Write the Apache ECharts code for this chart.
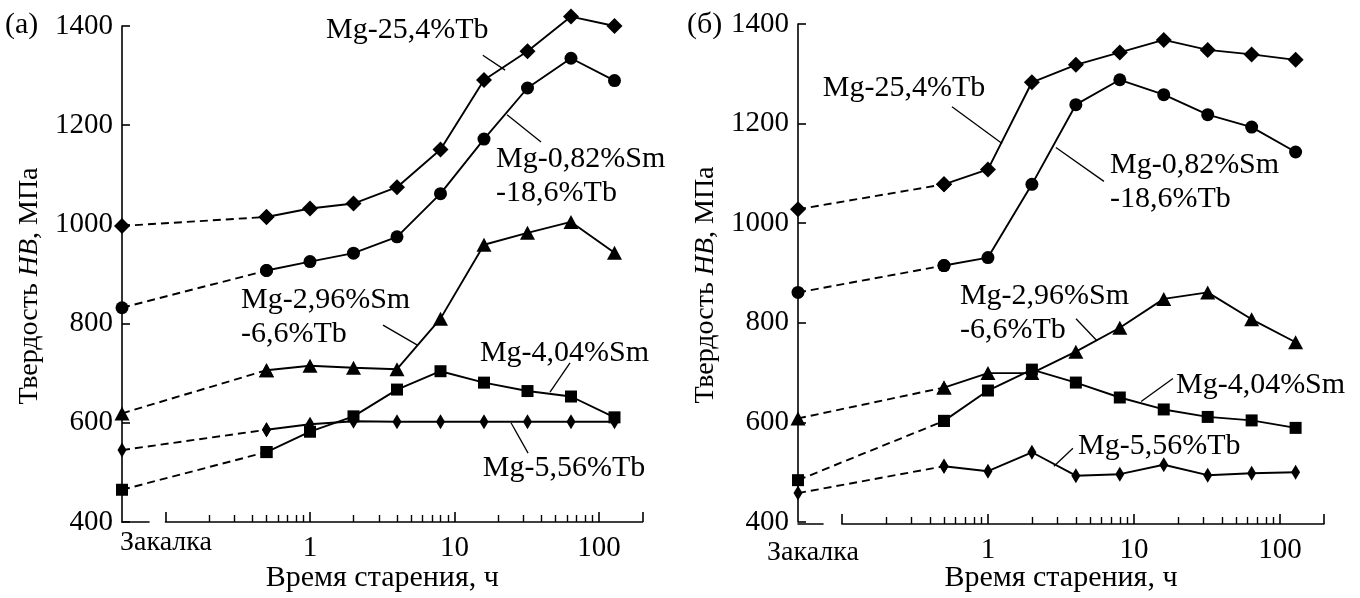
<!DOCTYPE html>
<html><head><meta charset="utf-8">
<script src="https://cdn.jsdelivr.net/npm/echarts@6/dist/echarts.min.js"></script>
<style>html,body{margin:0;padding:0;background:#fff}#c{width:1360px;height:598px}</style>
</head><body><div id="c"></div><script>
// ---------------- data ----------------
const TIMES = [0.5, 1, 2, 4, 8, 16, 32, 64, 128];        // ageing time, h
const QUENCH_X = 0.05;                                    // pseudo-time of the "Закалка" (quenched) state
const QUENCH_LABEL = 'Закалка';
const ALLOYS = ['Mg-25,4%Tb', 'Mg-0,82%Sm-18,6%Tb', 'Mg-2,96%Sm-6,6%Tb', 'Mg-4,04%Sm', 'Mg-5,56%Tb'];
const ALLOY_LABELS = ['Mg-25,4%Tb', 'Mg-0,82%Sm\n-18,6%Tb', 'Mg-2,96%Sm\n-6,6%Tb', 'Mg-4,04%Sm', 'Mg-5,56%Tb'];
// first value = quenched state, then one value per TIMES entry (HB, MPa)
const A_TB254 = [997, 1015, 1032, 1042, 1075, 1151, 1291, 1349, 1419, 1400];
const A_SM082 = [832, 907, 925, 942, 975, 1062, 1172, 1275, 1335, 1290];
const A_SM296 = [619, 706, 715, 711, 708, 810, 959, 983, 1005, 943];
const A_SM404 = [465, 541, 582, 613, 667, 704, 681, 664, 653, 611];
const A_TB556 = [545, 586, 597, 603, 602, 602, 602, 602, 602, 602];

const B_TB254 = [1028, 1078, 1108, 1283, 1318, 1343, 1368, 1348, 1339, 1328];
const B_SM082 = [861, 915, 931, 1078, 1238, 1288, 1258, 1218, 1193, 1143];
const B_SM296 = [608, 670, 699, 699, 742, 790, 848, 861, 807, 761];
const B_SM404 = [484, 603, 664, 706, 680, 650, 626, 611, 604, 589];
const B_TB556 = [458, 512, 502, 540, 493, 496, 515, 494, 498, 500];

const X_MAJOR_TICKS = [0.1, 1, 10, 100, 200];
const X_MINOR_TICKS = [0.2,0.3,0.4,0.5,0.6,0.7,0.8,0.9, 2,3,4,5,6,7,8,9, 20,30,40,50,60,70,80,90];
const X_TICK_LABELS = [1, 10, 100];
const X_MAX = 200;
const Y_MIN = 400, Y_MAX = 1400, Y_STEP = 200;
const X_NAME = 'Время старения, ч';
const PANEL_TAGS = ['(a)', '(б)'];

// annotation anchors (data coords): text left-middle point, leader line ends
const LABEL_POS_A = [[1.29, 1392], [19.4, 1097], [0.333, 814], [15.0, 741], [15.7, 509]];
const LEADER_A = [[[15.7, 1341], [22.4, 1311]], [[23.1, 1221], [39.7, 1166]], [[3.2, 797], [5.5, 757]], [[63, 721], [45.8, 662]], [[24.6, 600], [32.3, 539]]];
const LABEL_POS_B = [[0.074, 1272], [6.85, 1083], [0.643, 819], [19.4, 674], [4.14, 552]];
const LEADER_B = [[[0.567, 1234], [1.25, 1160]], [[2.92, 1152], [6.23, 1084]], [[4.01, 808], [5.58, 764]], [[18.5, 688], [11.2, 642]], [[3.82, 548], [2.83, 512]]];

// ---------------- styles / layout ----------------
const FONT = '"Liberation Serif", "Times New Roman", serif';
const INK = '#000';
const MARKERS = [
  {symbol: 'diamond', size: [16, 16]},
  {symbol: 'circle', size: 13},
  {symbol: 'triangle', size: [15, 14]},
  {symbol: 'rect', size: 12},
  {symbol: 'diamond', size: [9, 15]}
];
const PANELS = [
  {tag: PANEL_TAGS[0], L: 122, top: 26, h: 496, decade: 144.5, qW: 27, series: [A_TB254, A_SM082, A_SM296, A_SM404, A_TB556], pos: LABEL_POS_A, lead: LEADER_A,
   tagPos: [5, 10], qPos: [120, 529]},
  {tag: PANEL_TAGS[1], L: 798, top: 24, h: 500, decade: 146, qW: 25, series: [B_TB254, B_SM082, B_SM296, B_SM404, B_TB556], pos: LABEL_POS_B, lead: LEADER_B,
   tagPos: [687, 10], qPos: [767, 539]}
];

const grid = [], xAxis = [], yAxis = [], series = [], title = [];
const L10 = Math.log10;
PANELS.forEach((p, pi) => {
  const W = p.decade * L10(X_MAX / QUENCH_X);
  const tickL = p.L + p.decade * L10(X_MAJOR_TICKS[0] / QUENCH_X);
  grid.push({left: p.L, top: p.top, width: W, height: p.h});                      // 3pi   main
  grid.push({left: p.L, top: p.top, width: p.qW, height: p.h});                   // 3pi+1 quench stub
  grid.push({left: tickL, top: p.top, width: p.L + W - tickL, height: p.h});      // 3pi+2 log tick axis
  const g0 = 3 * pi;
  const xi = 4 * pi, yi = 3 * pi;
  // main log axis (hidden line, carries the name)
  xAxis.push({type: 'log', gridIndex: g0, position: 'bottom', min: QUENCH_X, max: X_MAX, logBase: 10,
    axisLine: {show: false}, axisTick: {show: false}, axisLabel: {show: false}, splitLine: {show: false},
    name: X_NAME, nameLocation: 'middle', nameGap: 41,
    nameTextStyle: {fontFamily: FONT, fontSize: 30, color: INK}});
  // quench stub
  xAxis.push({type: 'value', gridIndex: g0 + 1, position: 'bottom', min: 0, max: 1,
    axisLine: {show: true, lineStyle: {color: INK, width: 1.6}}, axisTick: {show: false}, axisLabel: {show: false}, splitLine: {show: false}});
  // major ticks + labels (decade space)
  xAxis.push({type: 'value', gridIndex: g0 + 2, position: 'bottom', offset: 0, min: L10(X_MAJOR_TICKS[0]), max: L10(X_MAX),
    axisLine: {show: true, lineStyle: {color: INK, width: 1.6}},
    axisTick: {show: true, inside: true, length: 10, lineStyle: {color: INK, width: 1.6}, customValues: X_MAJOR_TICKS.map(L10)},
    axisLabel: {show: true, margin: 12, customValues: X_TICK_LABELS.map(L10), fontFamily: FONT, fontSize: 29, color: INK,
      formatter: v => String(Math.round(Math.pow(10, v)))},
    splitLine: {show: false}});
  // minor ticks
  xAxis.push({type: 'value', gridIndex: g0 + 2, position: 'bottom', offset: 0, min: L10(X_MAJOR_TICKS[0]), max: L10(X_MAX),
    axisLine: {show: false},
    axisTick: {show: true, inside: true, length: 7, lineStyle: {color: INK, width: 1.4}, customValues: X_MINOR_TICKS.map(L10)},
    axisLabel: {show: false}, splitLine: {show: false}});
  yAxis.push({type: 'value', gridIndex: g0, min: Y_MIN, max: Y_MAX, interval: Y_STEP,
    axisLine: {show: true, lineStyle: {color: INK, width: 1.6}},
    axisTick: {show: true, inside: true, length: 8, lineStyle: {color: INK, width: 1.6}},
    axisLabel: {margin: 9, fontFamily: FONT, fontSize: 29, color: INK, formatter: v => String(v)},
    splitLine: {show: false},
    name: '{a|Твердость }{i|HB}{a|, МПа}', nameLocation: 'middle', nameGap: 78,
    nameTextStyle: {color: INK, padding: [0, 24, 0, 0],
      rich: {a: {fontFamily: FONT, fontSize: 28, color: INK}, i: {fontFamily: FONT, fontSize: 28, fontStyle: 'italic', color: INK}}}});
  yAxis.push({type: 'value', gridIndex: g0 + 1, show: false, min: Y_MIN, max: Y_MAX});
  yAxis.push({type: 'value', gridIndex: g0 + 2, show: false, min: Y_MIN, max: Y_MAX});

  p.series.forEach((vals, si) => {
    const m = MARKERS[si];
    const common = {type: 'line', xAxisIndex: xi, yAxisIndex: yi, symbol: m.symbol, symbolSize: m.size, clip: false,
      itemStyle: {color: INK}, animation: false, silent: true};
    series.push(Object.assign({}, common, {name: ALLOYS[si] + ' quench',
      data: [[QUENCH_X, vals[0]], [TIMES[0], vals[1]]],
      lineStyle: {color: INK, width: 1.9, type: [8, 5]}}));
    series.push(Object.assign({}, common, {name: ALLOYS[si],
      data: TIMES.map((t, i) => [t, vals[i + 1]]),
      lineStyle: {color: INK, width: 1.9},
      markLine: {silent: true, animation: false, symbol: ['none', 'none'], label: {show: false},
        lineStyle: {color: INK, width: 1.3, type: 'solid'},
        data: [[{coord: p.lead[si][0]}, {coord: p.lead[si][1]}]]},
      markPoint: {silent: true, animation: false, symbol: 'circle', symbolSize: 0,
        label: {show: true, position: 'right', distance: 0, align: 'left', verticalAlign: 'middle',
          fontFamily: FONT, fontSize: 30, lineHeight: 34, color: INK, formatter: ALLOY_LABELS[si]},
        data: [{coord: p.pos[si], value: 0}]}}));
  });
  title.push({text: p.tag, left: p.tagPos[0], top: p.tagPos[1], padding: 0,
    textStyle: {fontFamily: FONT, fontSize: 30, fontWeight: 'normal', color: INK}});
  title.push({text: QUENCH_LABEL, left: p.qPos[0], top: p.qPos[1], padding: 0,
    textStyle: {fontFamily: FONT, fontSize: 28, fontWeight: 'normal', color: INK}});
});

const chart = echarts.init(document.getElementById('c'), null, {renderer: 'canvas'});
chart.setOption({backgroundColor: '#fff', animation: false, title, grid, xAxis, yAxis, series});
</script></body></html>
